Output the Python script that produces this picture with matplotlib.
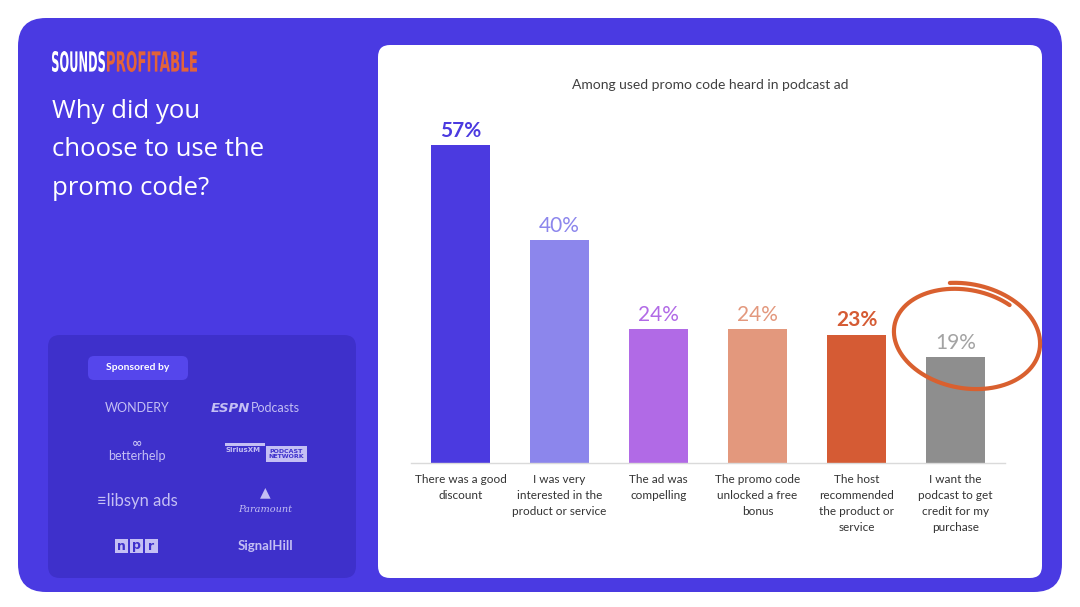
import numpy as np
import matplotlib.pyplot as plt
from matplotlib.patches import FancyBboxPatch, Rectangle, PathPatch
from matplotlib.textpath import TextPath
from matplotlib.font_manager import FontProperties
from matplotlib.transforms import Affine2D

categories = [
    "There was a good\ndiscount",
    "I was very\ninterested in the\nproduct or service",
    "The ad was\ncompelling",
    "The promo code\nunlocked a free\nbonus",
    "The host\nrecommended\nthe product or\nservice",
    "I want the\npodcast to get\ncredit for my\npurchase",
]
values = [57, 40, 24, 24, 23, 19]
bar_colors = ["#4B3AE0", "#8C86EC", "#B16AE6", "#E3987D", "#D55B34", "#8E8E8E"]
label_colors = ["#4B3AE0", "#8C86EC", "#B16AE6", "#E3987D", "#D55B34", "#A3A3A3"]
label_bold = [True, False, False, False, True, False]
sponsors_left = ["WONDERY", "betterhelp", "libsyn ads", "npr"]
sponsors_right = ["ESPN Podcasts", "SiriusXM PODCAST NETWORK", "Paramount", "SignalHill"]

purple = "#4A3AE2"
box_purple = "#3E30CB"
logo_col = "#C4BFF4"

fig = plt.figure(figsize=(10.8, 6.07), dpi=100)
fig.patch.set_facecolor("white")

# background layer in pixel coords
bg = fig.add_axes([0, 0, 1, 1])
bg.set_xlim(0, 1080)
bg.set_ylim(607, 0)
bg.axis("off")

bg.add_patch(FancyBboxPatch((18, 18), 1044, 574, boxstyle="round,pad=0,rounding_size=28",
                            fc=purple, ec="none"))
bg.add_patch(FancyBboxPatch((378, 45), 664, 533, boxstyle="round,pad=0,rounding_size=12",
                            fc="white", ec="none"))
bg.add_patch(FancyBboxPatch((48, 335), 308, 243, boxstyle="round,pad=0,rounding_size=12",
                            fc=box_purple, ec="none"))
bg.add_patch(FancyBboxPatch((88, 356), 100, 24, boxstyle="round,pad=0,rounding_size=6",
                            fc="#5546EC", ec="none"))
bg.text(138, 368, "Sponsored by", color="white", fontsize=7.5, fontweight="bold",
        family="Lato", ha="center", va="center")

# condensed logo drawn as squeezed text paths
fp = FontProperties(family="DejaVu Sans", weight="bold")
def logo_word(word, x0, width, color):
    tp = TextPath((0, 0), word, size=30, prop=fp)
    ext = tp.get_extents()
    sx = width / ext.width
    sy = 21 / ext.height
    tr = Affine2D().translate(-ext.x0, -ext.y0).scale(sx, -sy).translate(x0, 72)
    bg.add_patch(PathPatch(tr.transform_path(tp), fc=color, ec="none"))

logo_word("SOUNDS", 52, 53, "white")
logo_word("PROFITABLE", 107, 90, "#E2633A")

bg.text(52, 150, "Why did you\nchoose to use the\npromo code?", color="white",
        fontsize=18.5, family="Open Sans", va="center", ha="left", linespacing=1.69)

# sponsor "logos" as text
ys = [408, 452, 501, 546]
bg.text(137, ys[0], sponsors_left[0], color=logo_col, fontsize=9, family="Lato",
        ha="center", va="center")
bg.text(137, ys[1] - 9, "\u221e", color=logo_col, fontsize=9, fontweight="bold",
        ha="center", va="center")
bg.text(137, ys[1] + 4, sponsors_left[1], color=logo_col, fontsize=9, family="Lato",
        ha="center", va="center")
bg.text(137, ys[2], "\u2261" + sponsors_left[2], color=logo_col, fontsize=12,
        family="Lato", ha="center", va="center")
for i, ch in enumerate(sponsors_left[3]):
    bg.add_patch(Rectangle((115 + i * 15, ys[3] - 7), 13, 14, fc=logo_col, ec="none"))
    bg.text(121.5 + i * 15, ys[3], ch, color=box_purple, fontsize=9, fontweight="bold",
            ha="center", va="center", family="DejaVu Sans")

espn, pods = sponsors_right[0].split(" ")
bg.text(250, ys[0], espn, color=logo_col, fontsize=9.5, fontweight="bold",
        style="italic", family="DejaVu Sans", ha="right", va="center")
bg.text(251, ys[0], pods, color=logo_col, fontsize=9, family="Lato",
        ha="left", va="center")
bg.add_patch(Rectangle((225, 443), 40, 3, fc=logo_col, ec="none"))
bg.text(226, 450, "SiriusXM", color=logo_col, fontsize=5, fontweight="bold",
        ha="left", va="center")
bg.add_patch(Rectangle((266, 446), 41, 16, fc=logo_col, ec="none"))
bg.text(286, 454, "PODCAST\nNETWORK", color=box_purple, fontsize=4.5, fontweight="bold",
        ha="center", va="center", linespacing=1.0)
bg.text(265, 492, "\u25b2", color=logo_col, fontsize=10, ha="center", va="center")
bg.text(265, 509, sponsors_right[2], color=logo_col, fontsize=7, style="italic",
        family="DejaVu Serif", ha="center", va="center")
bg.text(265, 546, sponsors_right[3], color=logo_col, fontsize=9.5, fontweight="bold",
        family="Lato", ha="center", va="center")

# chart axes
ax = fig.add_axes([411 / 1080, 144 / 607, 594 / 1080, 362.7 / 607])
ax.patch.set_alpha(0)
x = np.arange(len(values))
ax.bar(x, values, width=0.606, color=bar_colors, zorder=2)
for xi, v, c, b in zip(x, values, label_colors, label_bold):
    ax.annotate(f"{v}%", (xi, v), xytext=(0, 3), textcoords="offset points",
                ha="center", va="bottom", color=c, fontsize=15, family="Lato",
                fontweight="bold" if b else "normal")
ax.set_xlim(-0.5, 5.5)
ax.set_ylim(0, 65)
ax.set_xticks(x)
ax.set_xticklabels(categories, fontsize=8.5, family="Lato", color="#333333",
                   linespacing=1.55, va="top")
ax.tick_params(axis="x", length=0, pad=8)
ax.set_yticks([])
for s in ["top", "left", "right"]:
    ax.spines[s].set_visible(False)
ax.spines["bottom"].set_color("#DADADA")
ax.spines["bottom"].set_linewidth(1)

fig.text(710 / 1080, 1 - 85 / 607, "Among used promo code heard in podcast ad",
         fontsize=10, family="Lato", color="#404040", ha="center", va="center")

# hand-drawn circle around the last bar's label
px_per_x = 99.0
px_per_y = 362.7 / 65
t = np.linspace(1.0, 1.0 + 2 * np.pi + 0.9, 240)
grow = (t - 1.0) / (2 * np.pi)
r_a = 70 + 6 * grow
r_b = 47 + 6 * grow
ang = np.deg2rad(-10)
dx = r_a * np.cos(t) * np.cos(ang) - r_b * np.sin(t) * np.sin(ang)
dy = r_a * np.cos(t) * np.sin(ang) + r_b * np.sin(t) * np.cos(ang)
cx, cy = x[-1] + 10 / px_per_x, values[-1] + 3.5
ax.plot(cx + dx / px_per_x, cy + dy / px_per_y, color="#D9602F", lw=3,
        solid_capstyle="round", clip_on=False, zorder=5)

fig.savefig("out.png", dpi=100)
